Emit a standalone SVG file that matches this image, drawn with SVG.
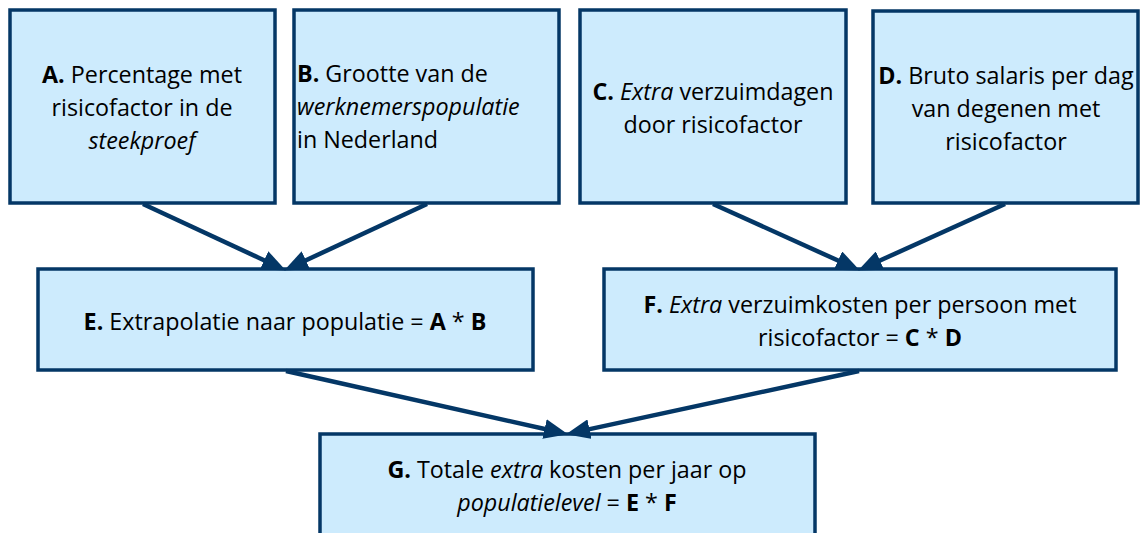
<svg xmlns="http://www.w3.org/2000/svg" width="1144" height="533" viewBox="0 0 1144 533">
<style>
.box{fill:#cdebfd;stroke:#043766;stroke-width:3.5}
.t{font-family:"Open Sans","Liberation Sans",sans-serif;font-size:23.3px;fill:#000}
.c{text-anchor:middle}
.b{font-weight:bold}
.i{font-style:italic}
.con{stroke:#043766;stroke-width:4.5;fill:none}
</style>
<defs>
<marker id="ah" markerUnits="userSpaceOnUse" viewBox="0 0 24 20" markerWidth="24" markerHeight="20" refX="14" refY="10" orient="auto">
<path d="M0,0 L24,10 L0,20 z" fill="#043766"/>
</marker>
</defs>
<rect width="1144" height="533" fill="#fff"/>
<g id="nodeA">
<rect class="box" x="10" y="10" width="265" height="193"/>
<text class="t c" x="142" y="83"><tspan class="b">A.</tspan> Percentage met</text>
<text class="t c" x="142" y="116">risicofactor in de</text>
<text class="t c i" x="142" y="149">steekproef</text>
</g>
<g id="nodeB">
<rect class="box" x="294" y="10" width="265" height="193"/>
<text class="t" x="297" y="82"><tspan class="b">B.</tspan> Grootte van de</text>
<text class="t i" x="297" y="115">werknemerspopulatie</text>
<text class="t" x="297" y="148">in Nederland</text>
</g>
<g id="nodeC">
<rect class="box" x="580" y="10" width="266" height="193"/>
<text class="t c" x="713" y="100"><tspan class="b">C.</tspan> <tspan class="i">Extra</tspan> verzuimdagen</text>
<text class="t c" x="713" y="133">door risicofactor</text>
</g>
<g id="nodeD">
<rect class="box" x="873" y="11" width="265" height="192"/>
<text class="t c" x="1006" y="84"><tspan class="b">D.</tspan> Bruto salaris per dag</text>
<text class="t c" x="1006" y="117">van degenen met</text>
<text class="t c" x="1006" y="150">risicofactor</text>
</g>
<g id="nodeE">
<rect class="box" x="38" y="269" width="495" height="101"/>
<text class="t c" x="285" y="330"><tspan class="b">E.</tspan> Extrapolatie naar populatie = <tspan class="b">A</tspan> * <tspan class="b">B</tspan></text>
</g>
<g id="nodeF">
<rect class="box" x="604" y="269" width="512" height="101"/>
<text class="t c" x="860" y="313"><tspan class="b">F.</tspan> <tspan class="i">Extra</tspan> verzuimkosten per persoon met</text>
<text class="t c" x="860" y="346">risicofactor = <tspan class="b">C</tspan> * <tspan class="b">D</tspan></text>
</g>
<g id="nodeG">
<rect class="box" x="320" y="434" width="495" height="110"/>
<text class="t c" x="567" y="478"><tspan class="b">G.</tspan> Totale <tspan class="i">extra</tspan> kosten per jaar op</text>
<text class="t c" x="567" y="511"><tspan class="i">populatielevel</tspan> = <tspan class="b">E</tspan> * <tspan class="b">F</tspan></text>
</g>
<g id="connectors">
<line class="con" x1="143" y1="204" x2="276.8" y2="266.2" marker-end="url(#ah)"/>
<line class="con" x1="427" y1="204" x2="293.2" y2="266.2" marker-end="url(#ah)"/>
<line class="con" x1="713" y1="204" x2="850.8" y2="266.3" marker-end="url(#ah)"/>
<line class="con" x1="1005" y1="204" x2="867.2" y2="266.3" marker-end="url(#ah)"/>
<line class="con" x1="286" y1="371" x2="558.2" y2="432" marker-end="url(#ah)"/>
<line class="con" x1="859" y1="371" x2="575.8" y2="432.1" marker-end="url(#ah)"/>
</g>
</svg>
